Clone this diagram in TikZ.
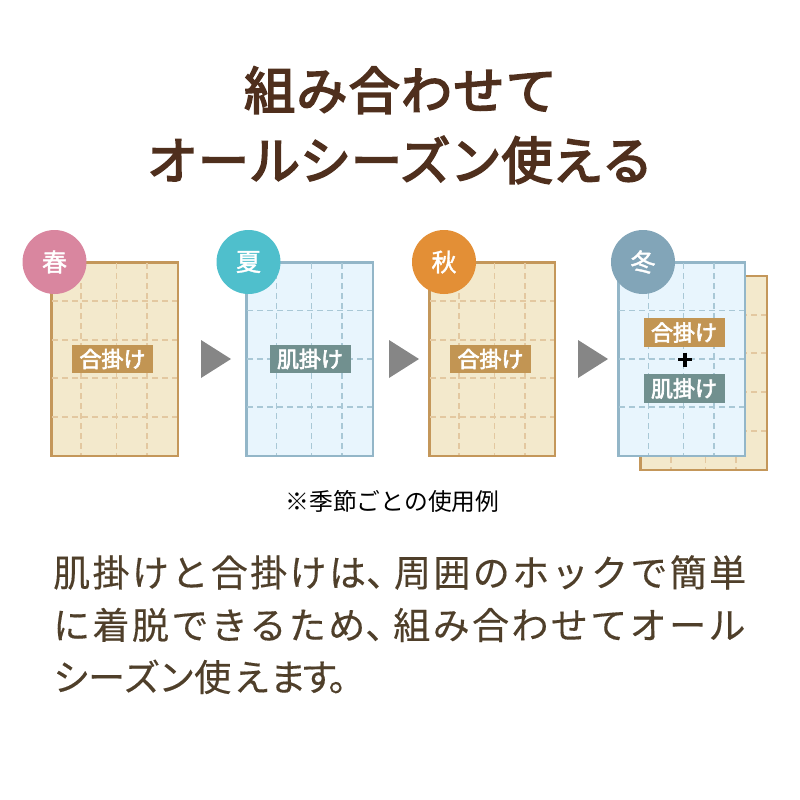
\documentclass[tikz,border=0pt]{standalone}
\usepackage{fontspec}
\newfontfamily\jpfont{Noto Sans CJK JP}
\newfontfamily\jpmedium[FakeBold=1.5]{Noto Sans CJK JP}
\newfontfamily\jptag[FakeBold=3]{Noto Sans CJK JP}
\newfontfamily\jpbody[LetterSpace=6.5,FakeBold=0.3]{Noto Sans CJK JP}
\newfontfamily\jptitle[LetterSpace=2.6,FakeBold=3.5]{Noto Sans CJK JP}
\newfontfamily\jptitlewide[FakeBold=3.5]{Noto Sans CJK JP}
\newcommand{\tightcomma}{\makebox[28pt][l]{、}}
\definecolor{titlebrown}{HTML}{4F2F1D}
\definecolor{bodybrown}{HTML}{4F3F2A}
\definecolor{warmfill}{HTML}{F3E9CC}
\definecolor{warmline}{HTML}{C4975A}
\definecolor{warmdash}{HTML}{E3C8A0}
\definecolor{coolfill}{HTML}{E8F5FD}
\definecolor{coolline}{HTML}{93B6C8}
\definecolor{cooldash}{HTML}{A9C8D6}
\definecolor{springpink}{HTML}{D9869F}
\definecolor{summerblue}{HTML}{4FBFCC}
\definecolor{autumnorange}{HTML}{E38F36}
\definecolor{winterblue}{HTML}{82A5B8}
\definecolor{tagbrown}{HTML}{C29553}
\definecolor{tagteal}{HTML}{71908F}
\definecolor{arrowgray}{HTML}{868686}
\tikzset{
	warmcard/.style={draw=warmline,fill=warmfill,line width=2.6pt},
	coolcard/.style={draw=coolline,fill=coolfill,line width=2.6pt},
	warmgrid/.style={draw=warmdash,line width=1.2pt,dash pattern=on 6pt off 4pt},
	coolgrid/.style={draw=cooldash,line width=1.2pt,dash pattern=on 6pt off 4pt},
	season/.style={circle,minimum size=64pt,inner sep=0pt,text=white,font=\jpmedium\fontsize{25}{25}\selectfont},
	tag/.style={minimum width=81pt,minimum height=28.5pt,inner sep=0pt,text=white,font=\jptag\fontsize{22}{22}\selectfont},
	headline/.style={anchor=base,inner sep=0pt,text=titlebrown},
	bodyline/.style={anchor=base west,inner sep=0pt,text=bodybrown,font=\jpbody\fontsize{37}{37}\selectfont},
	nextarrow/.style={fill=arrowgray}
}
\begin{document}
\begin{tikzpicture}[x=1pt,y=-1pt]
	\useasboundingbox (0,0) rectangle (800,800);
	% Title
	\node[headline,font=\jptitle\fontsize{51}{51}\selectfont] (title1) at (400.5,109.5) {組み合わせて};
	\node[headline,font=\jptitlewide\fontsize{51}{51}\selectfont] (title2) at (400,179.5) {オールシーズン使える};

	% Spring
	\draw[warmcard] (51.5,262.5) rectangle (178,456);
	\draw[warmgrid] (52,301) -- (177,301);
	\draw[warmgrid] (52,340) -- (177,340);
	\draw[warmgrid] (52,378) -- (177,378);
	\draw[warmgrid] (52,417) -- (177,417);
	\draw[warmgrid] (81,263) -- (81,455);
	\draw[warmgrid] (116.5,263) -- (116.5,455);
	\draw[warmgrid] (147,263) -- (147,455);
	\node[season,fill=springpink] (spring) at (54.5,262) {春};
	\node[tag,fill=tagbrown] (springtag) at (112.5,359) {合掛け};

	% Summer
	\draw[coolcard] (246.5,262.5) rectangle (373,456);
	\draw[coolgrid] (247,310.5) -- (372,310.5);
	\draw[coolgrid] (247,359) -- (372,359);
	\draw[coolgrid] (247,407) -- (372,407);
	\draw[coolgrid] (276.5,263) -- (276.5,455);
	\draw[coolgrid] (311.5,263) -- (311.5,455);
	\draw[coolgrid] (342,263) -- (342,455);
	\node[season,fill=summerblue] (summer) at (248.5,262) {夏};
	\node[tag,fill=tagteal] (summertag) at (310,359) {肌掛け};

	% Autumn
	\draw[warmcard] (429.5,262.5) rectangle (555,456);
	\draw[warmgrid] (430,301) -- (554,301);
	\draw[warmgrid] (430,340) -- (554,340);
	\draw[warmgrid] (430,378) -- (554,378);
	\draw[warmgrid] (430,417) -- (554,417);
	\draw[warmgrid] (459,263) -- (459,455);
	\draw[warmgrid] (494.5,263) -- (494.5,455);
	\draw[warmgrid] (525,263) -- (525,455);
	\node[season,fill=autumnorange] (autumn) at (444,262) {秋};
	\node[tag,fill=tagbrown] (autumntag) at (490.5,359) {合掛け};

	% Winter, back card
	\draw[warmcard] (640.5,276) rectangle (767,470);
	\draw[warmgrid] (641,315) -- (766,315);
	\draw[warmgrid] (641,353) -- (766,353);
	\draw[warmgrid] (641,392) -- (766,392);
	\draw[warmgrid] (641,431) -- (766,431);
	\draw[warmgrid] (671,277) -- (671,469);
	\draw[warmgrid] (705.5,277) -- (705.5,469);
	\draw[warmgrid] (736,277) -- (736,469);

	% Winter, front card
	\draw[coolcard] (618.5,262.5) rectangle (745,456);
	\draw[coolgrid] (619,310.5) -- (744,310.5);
	\draw[coolgrid] (619,359) -- (744,359);
	\draw[coolgrid] (619,407) -- (744,407);
	\draw[coolgrid] (648.5,263) -- (648.5,455);
	\draw[coolgrid] (683.5,263) -- (683.5,455);
	\draw[coolgrid] (714,263) -- (714,455);
	\node[season,fill=winterblue] (winter) at (643,262) {冬};
	\node[tag,fill=tagbrown] (wintertop) at (684,332.5) {合掛け};
	\node[tag,fill=tagteal] (winterbottom) at (684,388.5) {肌掛け};
	\draw[black,line width=3.5pt] (678,359.5) -- (692,359.5);
	\draw[black,line width=3.5pt] (685,352.5) -- (685,366.5);

	% Arrows
	\fill[nextarrow] (201,340) -- (231,359) -- (201,378) -- cycle;
	\fill[nextarrow] (389,340) -- (419,359) -- (389,378) -- cycle;
	\fill[nextarrow] (578,340) -- (608,359) -- (578,378) -- cycle;

	% Text
	\node[anchor=base,inner sep=0pt,text=black,font=\jpfont\fontsize{23.8}{23.8}\selectfont] (note) at (392.5,510) {※季節ごとの使用例};
	\node[bodyline] (body1) at (53,586.5) {肌掛けと合掛けは\tightcomma 周囲のホックで簡単};
	\node[bodyline] (body2) at (53,639) {に着脱できるため\tightcomma 組み合わせてオール};
	\node[bodyline] (body3) at (53,691) {シ\kern-2pt ー\kern-2pt ズ\kern-2pt ン\kern-1pt 使え\kern-1pt ま\kern-6pt す\kern-9pt 。};
\end{tikzpicture}
\end{document}
